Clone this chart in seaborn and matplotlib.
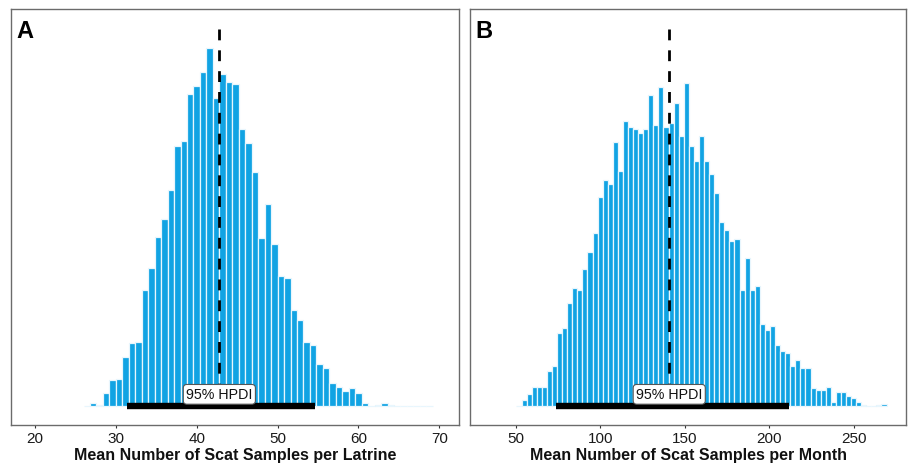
import numpy as np
import pandas as pd
import matplotlib
matplotlib.use("Agg")
import matplotlib.pyplot as plt
import seaborn as sns

# ---------------- data ----------------
# Panel A: mean number of scat samples per latrine (bin centres, bin width 0.8)
a_centers = [26.4, 27.2, 28.0, 28.8, 29.6, 30.4, 31.2, 32.0, 32.8, 33.6,
             34.4, 35.2, 36.0, 36.8, 37.6, 38.4, 39.2, 40.0, 40.8, 41.6,
             42.4, 43.2, 44.0, 44.8, 45.6, 46.4, 47.2, 48.0, 48.8, 49.6,
             50.4, 51.2, 52.0, 52.8, 53.6, 54.4, 55.2, 56.0, 56.8, 57.6,
             58.4, 59.2, 60.0, 60.8, 61.6, 62.4, 63.2, 64.0, 64.8, 65.6,
             66.4, 67.2, 68.0, 68.8]
a_counts = [2, 9, 4, 39, 78, 81, 149, 191, 194, 349,
            415, 509, 562, 649, 782, 797, 936, 960, 1002, 1074,
            925, 997, 972, 966, 832, 789, 702, 504, 607, 486,
            391, 384, 289, 259, 194, 183, 126, 115, 69, 58,
            46, 54, 39, 9, 2, 5, 9, 5, 2, 2,
            2, 2, 0, 2]
a_binwidth = 0.8
a_mean = 42.8
a_hpdi = [31.4, 54.6]
a_xticks = [20, 30, 40, 50, 60, 70]
a_xlabel = "Mean Number of Scat Samples per Latrine"

# Panel B: mean number of scat samples per month (bin centres, bin width 3)
b_centers = [51.8, 54.8, 57.8, 60.8, 63.8, 66.8, 69.8, 72.8, 75.8, 78.8,
             81.8, 84.8, 87.8, 90.8, 93.8, 96.8, 99.8, 102.8, 105.8, 108.8,
             111.8, 114.8, 117.8, 120.8, 123.8, 126.8, 129.8, 132.8, 135.8, 138.8,
             141.8, 144.8, 147.8, 150.8, 153.8, 156.8, 159.8, 162.8, 165.8, 168.8,
             171.8, 174.8, 177.8, 180.8, 183.8, 186.8, 189.8, 192.8, 195.8, 198.8,
             201.8, 204.8, 207.8, 210.8, 213.8, 216.8, 219.8, 222.8, 225.8, 228.8,
             231.8, 234.8, 237.8, 240.8, 243.8, 246.8, 249.8, 252.8, 255.8, 258.8,
             261.8, 264.8, 267.8]
b_counts = [2, 20, 36, 59, 59, 59, 105, 121, 219, 235,
            309, 355, 349, 412, 463, 520, 628, 679, 668, 793,
            707, 855, 838, 833, 821, 833, 934, 844, 957, 838,
            850, 911, 810, 969, 781, 736, 810, 736, 696, 640,
            554, 530, 497, 502, 349, 445, 349, 360, 247, 230,
            242, 184, 167, 161, 122, 139, 116, 116, 54, 48,
            48, 59, 14, 42, 42, 31, 25, 14, 3, 0,
            0, 3, 8]
b_binwidth = 3.0
b_mean = 140.7
b_hpdi = [73.5, 211.7]
b_xticks = [50, 100, 150, 200, 250]
b_xlabel = "Mean Number of Scat Samples per Month"

panel_labels = ["A", "B"]

# ---------------- style ----------------
sns.set_style("white")
plt.rcParams["font.family"] = ["Liberation Sans", "DejaVu Sans"]

BAR = "#11a3e3"
EDGE = "#e8f6fd"

fig = plt.figure(figsize=(9.08, 4.64), dpi=100)
W, H = 908.0, 464.0
ax_a = fig.add_axes([11 / W, 1 - 426 / H, (459 - 11) / W, (426 - 10) / H])
ax_b = fig.add_axes([470 / W, 1 - 426 / H, (906 - 470) / W, (426 - 10) / H])

panels = [
    (ax_a, a_centers, a_counts, a_binwidth, a_mean, a_hpdi, a_xticks, a_xlabel, (17.03, 72.44)),
    (ax_b, b_centers, b_counts, b_binwidth, b_mean, b_hpdi, b_xticks, b_xlabel, (22.8, 280.8)),
]

for i, (ax, centers, counts, bw, mean, hpdi, xticks, xlabel, xlim) in enumerate(panels):
    df = pd.DataFrame({"value": centers, "count": counts})
    lo = centers[0] - bw / 2
    hi = centers[-1] + bw / 2
    sns.histplot(data=df, x="value", weights="count", binwidth=bw, binrange=(lo, hi),
                 color=BAR, alpha=1, edgecolor=EDGE, linewidth=0.9, ax=ax, zorder=2)
    # mean line
    ax.plot([mean, mean], [1132, 0], color="black", lw=2.0,
            linestyle=(0, (3.9, 3.6)), zorder=4)
    # HPDI bar
    ax.plot(hpdi, [0, 0], color="black", lw=4.6, solid_capstyle="butt", zorder=5)
    ax.text(mean, 36, "95% HPDI", ha="center", va="center", fontsize=10.3, color="#111111",
            zorder=6,
            bbox=dict(boxstyle="round,pad=0.2,rounding_size=0.25", fc="white",
                      ec="#555555", lw=0.8))
    ax.set_xlim(*xlim)
    ax.set_ylim(-56, 1192)
    ax.set_xticks(xticks)
    ax.set_xticklabels([str(t) for t in xticks])
    ax.set_yticks([])
    ax.set_ylabel("")
    ax.set_xlabel(xlabel, fontsize=11.5, fontweight="bold", color="#111111", labelpad=1)
    ax.tick_params(axis="x", direction="out", length=2.5, width=0.8, color="#333333",
                   labelsize=11, labelcolor="#1a1a1a", pad=2, bottom=True)
    for sp in ax.spines.values():
        sp.set_visible(True)
        sp.set_color("#6b6b6b")
        sp.set_linewidth(1.0)
    ax.text(0.013, 0.976, panel_labels[i], transform=ax.transAxes, ha="left", va="top",
            fontsize=17, fontweight="bold", color="black")

fig.savefig("out.png", dpi=100)
